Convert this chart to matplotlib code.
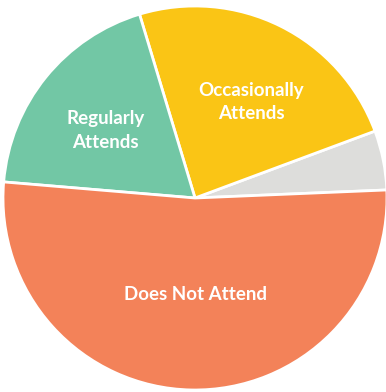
"""Pie chart of attendance shares, drawn to match the reference picture."""

import numpy as np
import matplotlib

matplotlib.use("Agg")
from matplotlib import pyplot as plt  # noqa: E402

#: Slices in counter-clockwise order, starting just above 3 o'clock.
_CATEGORIES = ["No Answer", "Occasionally Attends", "Regularly Attends", "Does Not Attend"]
_LABELS = ["", "Occasionally\nAttends", "Regularly\nAttends", "Does Not Attend"]
_SHARES = [5, 24, 19, 52]
_COLORS = ["#DDDDDB", "#FAC515", "#72C7A5", "#F38259"]

# label placement: (fraction of radius, angle nudge in degrees) per slice
_LABEL_POS = [(0, 0), (0.58, -4.0), (0.585, 2.0), (0.5, 1.2)]

fig = plt.figure(figsize=(3.86, 3.92), dpi=100)
ax = fig.add_axes([3 / 386, 2 / 392, 384 / 386, 384 / 392])

wedges, _ = ax.pie(
    _SHARES,
    colors=_COLORS,
    startangle=2.4,
    counterclock=True,
    radius=1.0,
    wedgeprops={"edgecolor": "white", "linewidth": 2.0},
)

for w, label, (r, nudge) in zip(wedges, _LABELS, _LABEL_POS):
    if not label:
        continue
    mid = np.deg2rad((w.theta1 + w.theta2) / 2 + nudge)
    ax.text(
        r * np.cos(mid), r * np.sin(mid), label,
        ha="center", va="center", color="white",
        fontsize=13.5, fontweight="bold", family=["Lato", "DejaVu Sans"],
        linespacing=1.45,
    )

ax.set_xlim(-1, 1)
ax.set_ylim(-1, 1)
ax.set_aspect("equal")
ax.axis("off")

fig.savefig("out.png", dpi=100)
plt.close(fig)
